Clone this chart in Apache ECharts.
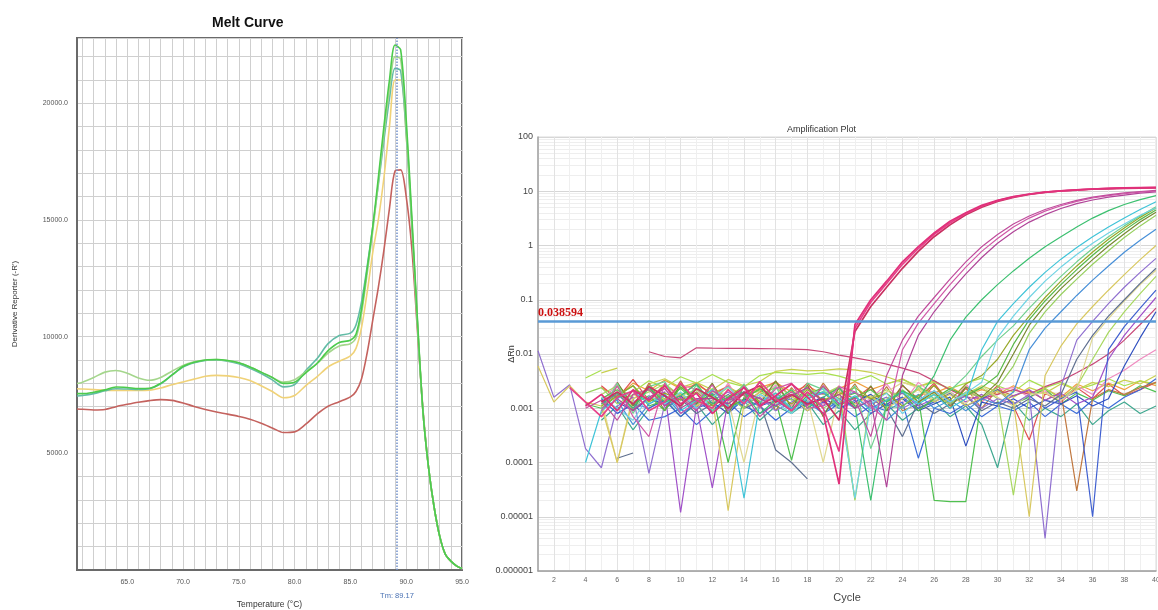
<!DOCTYPE html>
<html><head><meta charset="utf-8">
<script src="https://cdn.jsdelivr.net/npm/echarts@6/dist/echarts.min.js"></script>
<style>html,body{margin:0;padding:0;background:#fff}#c{width:1158px;height:610px}</style>
</head><body><div id="c"></div>
<script>
// ---------------- Melt curve data ----------------
const meltTemps = [60.5, 61, 62, 63, 64, 65, 66, 67, 68, 69, 70, 71, 72, 73, 74, 75, 76, 77, 78, 79, 80, 81, 82, 83, 84, 85,
  85.5, 86, 86.5, 87, 87.5, 88, 88.5, 89, 89.5, 90, 90.5, 91, 91.5, 92, 92.5, 93, 93.5, 94, 94.5, 95];
const meltRed = [6900, 6890, 6860, 6880, 7000, 7100, 7190, 7260, 7300, 7270, 7160, 7010, 6880, 6770, 6680, 6580, 6460, 6290, 6090, 5890, 5920, 6250, 6680, 7020, 7210, 7420,
  7650, 8200, 9300, 10700, 12100, 13700, 15500, 17100, 17150, 16000, 13800, 10300, 6900, 4400, 2700, 1450, 680, 380, 180, 60];
const meltYellow = [7770, 7760, 7730, 7700, 7700, 7700, 7700, 7710, 7800, 7940, 8060, 8180, 8300, 8340, 8320, 8250, 8120, 7900, 7650, 7380, 7480, 7900, 8280, 8700, 8950, 9180,
  9500, 10400, 11900, 13600, 15000, 16800, 19000, 21000, 21000, 18600, 14800, 10600, 6800, 4400, 2700, 1450, 680, 380, 180, 60];
const meltTeal = [7460, 7480, 7560, 7680, 7770, 7760, 7740, 7770, 7980, 8350, 8700, 8880, 8980, 9000, 8950, 8840, 8650, 8420, 8150, 7850, 7950, 8550, 9050, 9700, 10050, 10150,
  10500, 11500, 13000, 14700, 16500, 18400, 20200, 21500, 21400, 18700, 14800, 10600, 6800, 4400, 2700, 1450, 680, 380, 180, 60];
const meltPaleGreen = [7990, 8050, 8250, 8480, 8550, 8430, 8230, 8130, 8250, 8520, 8770, 8920, 9000, 9020, 8970, 8880, 8700, 8480, 8250, 8050, 8150, 8500, 8840, 9300, 9600, 9700,
  9950, 11000, 12700, 14500, 16600, 18700, 20600, 22000, 21900, 19000, 15000, 10700, 6800, 4400, 2700, 1450, 680, 380, 180, 60];
const meltGreen = [7560, 7560, 7620, 7720, 7840, 7820, 7780, 7790, 8000, 8350, 8720, 8900, 9000, 9020, 8980, 8880, 8700, 8480, 8250, 8000, 8050, 8450, 8850, 9400, 9750, 9850,
  10100, 11200, 12900, 14700, 16800, 19000, 21000, 22500, 22300, 19300, 15200, 10800, 6800, 4400, 2700, 1450, 680, 380, 180, 60];
const tmValue = 89.17;
const meltXLabels = [65, 70, 75, 80, 85, 90, 95];
const meltXGrid = [61, 62, 63, 64, 65, 66, 67, 68, 69, 70, 71, 72, 73, 74, 75, 76, 77, 78, 79, 80, 81, 82, 83, 84, 85, 86, 87, 88, 89, 90, 91, 92, 93, 94, 95];
const meltYLabels = [5000, 10000, 15000, 20000];

// ---------------- Amplification plot data ----------------
const cycles = [1, 2, 3, 4, 5, 6, 7, 8, 9, 10, 11, 12, 13, 14, 15, 16, 17, 18, 19, 20, 21, 22, 23, 24, 25, 26, 27, 28, 29, 30, 31, 32, 33, 34, 35, 36, 37, 38, 39, 40];
const threshold = 0.038594;
const ampYLabels = ['0.000001', '0.00001', '0.0001', '0.001', '0.01', '0.1', '1', '10', '100'];
const ampXLabels = [2, 4, 6, 8, 10, 12, 14, 16, 18, 20, 22, 24, 26, 28, 30, 32, 34, 36, 38, 40];

const wP1 = [null, null, null, 1.1e-3, 1.8e-3, 9e-4, 2.2e-3, 1.4e-3, 2.6e-3, 1.2e-3,
  1.9e-3, 8e-4, 1.5e-3, 2.4e-3, 1.1e-3, 1.7e-3, 2.8e-3, 1.6e-3, 8e-4, 4e-5,
  0.035, 0.1, 0.22, 0.5, 0.95, 1.7, 2.8, 4.0, 5.5, 6.8,
  8.0, 8.9, 9.6, 10.2, 10.6, 11.0, 11.3, 11.5, 11.7, 11.8];
const wP2 = [null, null, 2.4e-3, 1.3e-3, 7e-4, 1.6e-3, 2.1e-3, 9e-4, 1.3e-3, 2.9e-3,
  1.4e-3, 1.0e-3, 2.2e-3, 1.2e-3, 3.1e-3, 1.5e-3, 9e-4, 2.0e-3, 1.0e-3, 1.6e-4,
  0.03, 0.09, 0.2, 0.45, 0.88, 1.6, 2.6, 3.9, 5.3, 6.7,
  7.9, 8.8, 9.6, 10.2, 10.6, 11.0, 11.3, 11.5, 11.6, 11.7];
const wP3 = [null, null, null, null, 1.3e-3, 2.0e-3, 1.2e-3, 2.5e-3, 1.7e-3, 1.1e-3,
  2.3e-3, 1.6e-3, 1.0e-3, 1.9e-3, 2.6e-3, 1.3e-3, 1.8e-3, 1.2e-3, 1.5e-3, 6e-4,
  0.026, 0.075, 0.17, 0.38, 0.78, 1.45, 2.4, 3.7, 5.1, 6.5,
  7.7, 8.7, 9.5, 10.1, 10.5, 10.9, 11.1, 11.3, 11.4, 11.5];
const wQ1 = [null, null, null, 1.0e-3, 1.4e-3, 6e-4, 1.8e-3, 2.2e-3, 1.1e-3, 1.6e-3,
  9e-4, 2.1e-3, 1.4e-3, 1.8e-3, 7e-4, 1.3e-3, 2.0e-3, 1.1e-3, 2.6e-3, 1.2e-3,
  1.5e-3, 3e-4, 4e-3, 0.018, 0.05, 0.11, 0.24, 0.5, 0.95, 1.6,
  2.5, 3.5, 4.6, 5.7, 6.8, 7.8, 8.6, 9.3, 9.9, 10.4];
const wQ2 = [null, null, null, null, 9e-4, 2.6e-3, 7e-4, 3e-4, 2.9e-3, 8e-4,
  1.3e-3, 2.7e-3, 9e-4, 2.6e-3, 1.0e-3, 2.3e-3, 2.9e-3, 1.0e-3, 1.1e-3, 2.5e-3,
  2.0e-3, 1.1e-3, 6e-4, 0.012, 0.037, 0.085, 0.19, 0.4, 0.78, 1.35,
  2.2, 3.2, 4.3, 5.4, 6.5, 7.5, 8.3, 9.0, 9.6, 10.1];
const wQ3 = [null, null, null, null, null, 1.5e-3, 9e-4, 1.6e-3, 2.3e-3, 1.0e-3,
  1.5e-3, 1.5e-3, 1.2e-3, 2.0e-3, 1.5e-3, 1.1e-3, 1.7e-3, 2.4e-3, 1.3e-3, 1.8e-3,
  1.0e-3, 1.4e-3, 3.5e-5, 4e-3, 0.022, 0.06, 0.14, 0.3, 0.6, 1.1,
  1.8, 2.7, 3.7, 4.8, 5.9, 6.9, 7.8, 8.5, 9.2, 9.7];
const wG1 = [null, null, null, null, 1.2e-3, 1.9e-3, 1.0e-3, 2.4e-3, 1.3e-3, 1.7e-3,
  2.8e-3, 1.2e-3, 1.6e-3, 2.0e-3, 8e-4, 1.4e-3, 2.2e-3, 1.0e-3, 1.6e-3, 2.4e-3,
  1.1e-3, 2e-5, 1.3e-3, 2.1e-3, 1.5e-3, 4e-3, 0.018, 0.048, 0.1, 0.19,
  0.34, 0.58, 0.95, 1.45, 2.2, 3.2, 4.4, 5.7, 7.0, 8.3];
const wG2 = [null, null, null, null, 9e-4, 2.9e-3, 8e-4, 2.5e-3, 3.1e-3, 1.0e-3,
  2.7e-3, 9e-4, 1.2e-3, 2.8e-3, 1.0e-3, 2.5e-3, 8e-4, 2.9e-3, 2.2e-3, 1.0e-3,
  2.6e-3, 1.8e-4, 1.1e-3, 1.0e-3, 2.6e-3, 1.5e-3, 2.1e-3, 4e-3, 0.009, 0.018,
  0.033, 0.07, 0.14, 0.27, 0.5, 0.88, 1.45, 2.3, 3.5, 5.2];
const wC1 = [null, null, null, 1e-4, 9e-4, 1.5e-3, 2.1e-3, 1.2e-3, 1.8e-3, 9e-4,
  1.4e-3, 2.2e-3, 1.1e-3, 2.2e-5, 1.3e-3, 1.9e-3, 1.0e-3, 1.5e-3, 2.0e-3, 1.2e-3,
  1.7e-3, 9e-4, 1.4e-3, 2.0e-3, 1.2e-3, 1.8e-3, 1.0e-3, 1.5e-3, 0.012, 0.04,
  0.085, 0.17, 0.32, 0.56, 0.92, 1.45, 2.2, 3.2, 4.6, 6.4];
const wC2 = [null, null, null, null, 1.6e-3, 1.0e-3, 6e-4, 1.7e-3, 1.2e-3, 2.0e-3,
  1.0e-3, 1.6e-3, 2.5e-3, 1.2e-3, 1.8e-3, 1.3e-3, 8e-4, 1.6e-3, 2.3e-3, 1.4e-3,
  2.2e-5, 1.2e-3, 1.9e-3, 8e-4, 1.4e-3, 2.1e-3, 1.3e-3, 1.9e-3, 3e-3, 0.02,
  0.05, 0.11, 0.22, 0.4, 0.68, 1.1, 1.7, 2.5, 3.6, 4.9];
const wO1 = [null, null, null, null, 1.1e-3, 1.7e-3, 2.6e-3, 1.3e-3, 1.9e-3, 1.4e-3,
  2.0e-3, 1.1e-3, 1.6e-3, 2.6e-3, 1.3e-3, 1.9e-3, 1.2e-3, 2.2e-3, 1.4e-3, 1.8e-3,
  2.4e-3, 1.5e-3, 1.9e-3, 1.1e-3, 1.7e-3, 2.6e-3, 1.4e-3, 2.8e-3, 4e-3, 8e-3,
  0.022, 0.05, 0.11, 0.22, 0.42, 0.76, 1.3, 2.1, 3.3, 4.9];
const wO2 = [null, null, null, null, 1.5e-3, 2.2e-3, 1.2e-3, 1.7e-3, 9e-4, 2.5e-3,
  1.3e-3, 1.8e-3, 1.0e-3, 1.5e-3, 2.3e-3, 1.6e-3, 9e-4, 1.7e-3, 2.0e-3, 1.1e-3,
  1.6e-3, 2.2e-3, 1.3e-3, 2.0e-3, 9e-4, 1.5e-3, 2.3e-3, 1.7e-3, 2.4e-3, 4e-3,
  0.015, 0.043, 0.095, 0.19, 0.36, 0.66, 1.15, 1.9, 3.0, 4.5];
const wO3 = [null, null, null, null, null, 3.0e-3, 1.1e-3, 2.6e-3, 9e-4, 2.8e-3,
  1.2e-3, 2.9e-3, 8e-4, 2.5e-3, 1.2e-3, 3.2e-3, 1.0e-3, 2.7e-3, 7e-4, 2.4e-3,
  1.0e-3, 2.6e-3, 9e-4, 2.7e-3, 1.3e-3, 2.0e-3, 1.0e-3, 2.5e-3, 1.6e-3, 3e-3,
  0.01, 0.034, 0.078, 0.16, 0.3, 0.55, 0.98, 1.65, 2.7, 4.1];
const wO4 = [null, null, null, 1.9e-3, 2.4e-3, 1.2e-3, 1.8e-3, 2.2e-3, 1.5e-3, 1.9e-3,
  1.2e-3, 2.3e-3, 1.6e-3, 1.0e-3, 1.8e-3, 2.4e-3, 1.4e-3, 1.9e-3, 1.0e-3, 1.5e-3,
  2.1e-5, null, 1.5e-3, 2.2e-3, 1.3e-3, 1.8e-3, 1.2e-3, 2.0e-3, 1.6e-3, 2.4e-3,
  0.006, 0.024, 0.06, 0.125, 0.24, 0.45, 0.8, 1.4, 2.3, 3.6];
const wB1 = [null, null, null, null, 1.0e-3, 1.4e-3, 5e-4, 1.2e-3, 1.7e-3, 8e-4,
  1.2e-3, 1.9e-3, 9e-4, 1.4e-3, 1.1e-3, 1.7e-3, 1.0e-3, 1.3e-3, 8e-4, 1.5e-3,
  1.0e-3, 1.4e-3, 6e-4, 1.1e-3, 1.8e-3, 1.0e-3, 1.4e-3, 9e-4, 1.5e-3, 1.2e-3,
  2.0e-3, 0.012, 0.03, 0.06, 0.12, 0.23, 0.42, 0.75, 1.25, 2.0];
const wY1 = [6e-3, 1.3e-3, 2.6e-3, 1.3e-3, 1.1e-3, 1e-4, 1.5e-3, 2.2e-3, 1.4e-3, 1.8e-3,
  1.1e-3, 1.6e-3, 1.3e-5, 1.2e-3, 2.0e-3, 1.3e-3, 1.7e-3, 9e-4, 1.4e-3, 2.0e-3,
  1.2e-3, 1.7e-3, 1.0e-3, 1.5e-3, 2.2e-3, 1.3e-3, 1.8e-3, 1.1e-3, 1.6e-3, 2.1e-3,
  1.3e-3, 1e-5, 4e-3, 0.014, 0.036, 0.075, 0.15, 0.29, 0.55, 1.0];
const wV1 = [0.0115, 1.6e-3, 2.7e-3, 1.8e-4, 8e-5, 1.1e-3, 1.6e-3, 6.3e-5, 1.2e-3, 1.8e-3,
  1.0e-3, 1.4e-3, 2.0e-3, 1.2e-3, 1.6e-3, 9e-4, 1.3e-3, 1.9e-3, 1.1e-3, 1.5e-3,
  2.0e-3, 1.2e-3, 1.6e-3, 1.0e-3, 1.4e-3, 2.1e-3, 1.3e-3, 1.7e-3, 1.0e-3, 1.5e-3,
  1.2e-3, 1.8e-3, 4e-6, 2.5e-3, 0.018, 0.04, 0.085, 0.17, 0.32, 0.58];
const wD1 = [null, null, null, null, null, 1.2e-4, 1.5e-4, null, 1.0e-3, 1.5e-3,
  8e-4, 1.2e-3, 1.8e-3, 1.0e-3, 1.3e-3, 1.7e-4, 1.0e-4, 5e-5, null, null,
  null, 1.5e-3, 1.0e-3, 3e-4, 1.3e-3, 8e-4, 1.2e-3, 1.7e-3, 9e-4, 1.3e-3,
  1.0e-3, 1.5e-3, 1.1e-3, 1.8e-3, 8e-3, 0.022, 0.05, 0.1, 0.2, 0.38];
const wY2 = [null, null, null, null, 1.4e-3, 1.0e-4, 1.8e-3, 1.3e-3, 2.4e-3, 1.5e-3,
  1.1e-3, 2.0e-3, 1.4e-3, 1.0e-4, 1.7e-3, 1.2e-3, 2.2e-3, 1.5e-3, 1.0e-4, 1.8e-3,
  2.5e-3, 1.5e-3, 2.0e-3, 3e-3, 2.4e-3, 1.4e-3, 2.0e-3, 1.2e-3, 2.6e-3, 1.6e-3,
  1.1e-3, 1.8e-3, 1.9e-3, 1.4e-3, 2.2e-3, 0.02, 0.045, 0.095, 0.19, 0.35];
const wB2 = [null, null, null, null, 1.5e-3, 8e-4, 1.2e-3, 1.0e-3, 1.4e-3, 7e-4,
  1.3e-3, 9e-4, 1.6e-3, 1.1e-3, 8e-4, 1.2e-3, 1.5e-3, 9e-4, 1.3e-3, 1.0e-3,
  1.4e-3, 8e-4, 1.2e-3, 1.6e-3, 1.0e-3, 1.3e-3, 1.9e-3, 1.1e-3, 1.5e-3, 2.2e-3,
  1.2e-3, 1.7e-3, 1.0e-3, 1.5e-3, 2.0e-3, 1e-5, 0.012, 0.032, 0.07, 0.15];
const wM2 = [null, null, null, null, 1.2e-3, 1.8e-3, 1.0e-3, 1.5e-3, 2.0e-3, 1.2e-5,
  1.1e-3, 3.4e-5, 1.4e-3, 2.0e-3, 1.2e-3, 1.6e-3, 1.0e-3, 1.5e-3, 1.9e-3, 1.2e-3,
  1.6e-3, 1.0e-3, 1.4e-3, 1.9e-3, 1.1e-3, 1.5e-3, 2.0e-3, 1.3e-3, 1.8e-3, 1.2e-3,
  1.7e-3, 2.2e-3, 1.4e-3, 1.9e-3, 1.2e-3, 1.6e-3, 8e-3, 0.022, 0.05, 0.11];
const wL1 = [null, null, null, null, 1.8e-3, 2.6e-3, 1.5e-3, 2.0e-3, 2.8e-3, 1.7e-3,
  2.2e-3, 1.5e-3, 2.4e-3, 1.7e-3, 2.1e-3, 2.9e-3, 1.6e-3, 2.3e-3, 1.8e-3, 2.5e-3,
  2.0e-5, 1.6e-3, 2.2e-3, 1.5e-3, 2.3e-3, 1.8e-3, 1.2e-3, 1.9e-3, 2.4e-3, 1.5e-3,
  2.5e-5, 1.8e-3, 2.3e-3, 1.5e-3, 2.5e-3, 8e-3, 0.025, 0.06, 0.13, 0.27];
const wB3 = [null, null, null, null, null, 1.3e-3, 9e-4, 1.5e-3, 1.2e-3, 1.7e-3,
  1.0e-3, 1.3e-3, 8e-4, 1.5e-3, 1.1e-3, 1.4e-3, 9e-4, 1.2e-3, 1.6e-3, 1.0e-3,
  1.3e-3, 1.8e-3, 1.1e-3, 1.5e-3, 9e-4, 1.2e-3, 1.6e-3, 2e-4, 1.3e-3, 1.1e-3,
  1.5e-3, 1.0e-3, 1.4e-3, 1.2e-3, 1.7e-3, 1.1e-3, 1.5e-3, 6e-3, 0.02, 0.06];
const wH1 = [null, null, null, null, null, null, null, 0.011, 0.009, 0.0085,
  0.013, 0.0128, 0.0127, 0.0127, 0.0126, 0.0125, 0.0123, 0.012, 0.011, 0.0095,
  0.0085, 0.0075, 0.0065, 0.0055, 0.0045, 0.0032, 0.0022, 0.0016, 0.0015, 0.0018,
  0.0022, 0.0018, 0.0025, 0.0032, 0.0045, 0.0065, 0.01, 0.018, 0.035, 0.07];
const wN1 = [null, null, null, null, 2.6e-3, 1.5e-3, 3.4e-3, 1.4e-3, 2.8e-3, 1.6e-3,
  3.0e-3, 1.7e-3, 2.6e-3, 1.2e-3, 2.0e-3, 3.1e-3, 1.6e-3, 2.9e-3, 1.3e-3, 2.0e-3,
  1.5e-3, 2.5e-3, 1.1e-3, 2.6e-3, 1.5e-3, 2.9e-3, 1.2e-3, 2.3e-3, 1.4e-3, 2.6e-3,
  1.1e-3, 2.6e-4, 1.9e-3, 1.3e-3, 2.4e-3, 1.5e-3, 2.8e-3, 1.7e-3, 2.2e-3, 3.0e-3];
const wN2 = [null, null, null, null, 2.4e-3, 1.6e-3, 2.9e-3, 2.1e-3, 3.3e-3, 2.3e-3,
  2.7e-3, 1.9e-3, 2.5e-3, 1.7e-3, 2.4e-3, 3.0e-3, 2.0e-3, 2.6e-3, 1.8e-3, 2.3e-3,
  3.1e-3, 2.2e-3, 2.8e-3, 3.5e-3, 2.4e-3, 1.9e-3, 2.5e-3, 1.7e-3, 2.2e-3, 1.8e-3,
  2.6e-3, 1.9e-3, 2.3e-3, 1.6e-3, 2.8e-3, 2.1e-3, 2.9e-3, 2.2e-3, 3.2e-3, 2.6e-3];
const wN3 = [null, null, null, 3.6e-3, 5e-3, null, 2.0e-3, 3.2e-3, 2.4e-3, 3.8e-3,
  2.9e-3, 4.2e-3, 3.0e-3, 2.5e-3, 4.0e-3, 4.6e-3, 4.4e-3, 4.2e-3, 4.5e-3, 3.9e-3,
  3.2e-3, 4.0e-3, 2.8e-3, 3.4e-3, 2.5e-3, 3.0e-3, 2.3e-3, 2.9e-3, 3.6e-3, 2.6e-3,
  2.0e-3, 3.3e-3, 2.4e-3, 3.0e-3, 2.2e-3, 2.7e-3, 3.5e-3, 2.6e-3, 3.2e-3, 2.8e-3];
const wN4 = [null, null, null, null, 6e-4, 1.1e-3, 4e-4, 1.0e-3, 1.5e-3, 7e-4,
  1.2e-3, 5e-4, 1.0e-3, 1.4e-3, 6e-4, 1.1e-3, 8e-4, 1.3e-3, 5e-4, 9e-4,
  4e-4, 8e-4, 1.2e-3, 6e-4, 1.0e-3, 1.4e-3, 7e-4, 1.1e-3, 5e-4, 8e-5,
  1.3e-3, 6e-4, 1.0e-3, 7e-4, 1.2e-3, 5e-4, 9e-4, 1.3e-3, 8e-4, 1.1e-3];
const wN5 = [null, null, null, null, 1.2e-3, 3.0e-3, 1.0e-3, 2.6e-3, 1.1e-3, 2.7e-3,
  2.2e-3, 1.1e-3, 2.9e-3, 1.0e-3, 1.4e-3, 2.7e-3, 1.1e-3, 2.5e-3, 1.2e-3, 2.6e-3,
  1.1e-3, 1.5e-3, 2.8e-3, 1.2e-3, 3.0e-3, 1.8e-3, 1.0e-3, 2.8e-3, 1.3e-3, 2.2e-3,
  2.4e-3, 1.6e-3, 2.1e-3, 1.3e-3, 2.6e-3, 1.8e-3, 3.5e-3, 5e-3, 8e-3, 0.012];
const wN6 = [null, null, null, null, null, 8e-4, 1.2e-3, 6e-4, 7e-4, 1.0e-3,
  5e-4, 9e-4, 1.3e-3, 7e-4, 1.1e-3, 6e-4, 1.0e-3, 1.4e-3, 8e-4, 1.2e-3,
  7e-4, 1.1e-3, 9e-4, 1.3e-3, 1.2e-4, 1.0e-3, 8e-4, 1.2e-3, 7e-4, 1.1e-3,
  9e-4, 1.3e-3, 7e-4, 1.2e-3, 8e-4, 1.4e-3, 1.0e-3, 1.6e-3, 2.2e-3, 3.5e-3];
const wN7 = [null, null, null, 1.2e-3, 1.0e-3, 1.7e-3, 2.6e-3, 1.1e-3, 1.4e-3, 2.3e-3,
  1.3e-3, 1.8e-3, 1.0e-4, 1.6e-3, 2.2e-3, 1.4e-3, 1.1e-4, 1.8e-3, 2.4e-3, 1.5e-3,
  1.9e-3, 1.5e-3, 1.4e-3, 2.0e-3, 1.6e-3, 2.0e-5, 1.9e-5, 1.9e-5, 1.5e-3, 2.2e-3,
  1.2e-3, 1.6e-3, 2.3e-3, 1.2e-3, 1.9e-3, 1.4e-3, 2.1e-3, 1.7e-3, 2.6e-3, 2.0e-3];
const wN8 = [null, null, null, null, 8e-4, 2.6e-3, 9e-4, 2.9e-3, 1.1e-3, 3.2e-3,
  1.0e-3, 2.8e-3, 1.1e-3, 1.4e-3, 3.0e-3, 9e-4, 2.4e-3, 1.0e-3, 2.9e-3, 1.2e-3,
  2.8e-3, 1.0e-3, 2.5e-3, 9e-4, 1.2e-3, 2.7e-3, 1.1e-3, 2.4e-3, 1.0e-3, 2.2e-3,
  1.7e-3, 2.1e-3, 1.4e-3, 2.0e-3, 3e-5, 1.5e-3, 2.2e-3, 1.8e-3, 2.4e-3, 3.0e-3];
const wN10 = [null, null, null, null, 4.5e-3, 5.5e-3, null, 2.8e-3, 3.5e-3, 2.4e-3,
  3.0e-3, 2.2e-3, 3.4e-3, 2.6e-3, 3.1e-3, 4.8e-3, 5.2e-3, 4.9e-3, 5.0e-3, 5.3e-3,
  5.1e-3, 4.6e-3, 3.8e-3, 3.0e-3, 2.5e-3, 3.2e-3, 2.2e-3, 1.8e-3, 2.6e-3, 2.0e-3,
  1.6e-3, 2.4e-3, 1.9e-3, 2.8e-3, 2.2e-3, 3.0e-3, 2.5e-3, 3.3e-3, 2.8e-3, 4.0e-3];

// series drawing order (first drawn = bottom) and colours
const ampWells = [
  ['N2', wN2, '#f0a040'], ['N1', wN1, '#e05050'], ['N3', wN3, '#a8e050'], ['N10', wN10, '#c8d050'],
  ['N4', wN4, '#40a890'], ['N5', wN5, '#f08cc0'], ['N6', wN6, '#3c6cd8'], ['N7', wN7, '#50c050'],
  ['N8', wN8, '#c07840'], ['H1', wH1, '#c84878'],
  ['B3', wB3, '#3050c0'], ['L1', wL1, '#a8d860'], ['M2', wM2, '#a050c8'], ['B2', wB2, '#4060d0'],
  ['Y2', wY2, '#e0d890'], ['D1', wD1, '#607090'], ['V1', wV1, '#9070d0'], ['Y1', wY1, '#d8c860'],
  ['B1', wB1, '#4890d8'], ['O4', wO4, '#98d060'], ['O3', wO3, '#788830'], ['O2', wO2, '#58b848'],
  ['O1', wO1, '#98a828'], ['G2', wG2, '#70d090'], ['C2', wC2, '#70d4e4'], ['C1', wC1, '#40c4d8'],
  ['G1', wG1, '#3cc070'], ['Q3', wQ3, '#b04498'], ['Q2', wQ2, '#d058a8'], ['Q1', wQ1, '#c04c9c'],
  ['P3', wP3, '#c83060'], ['P2', wP2, '#e8408a'], ['P1', wP1, '#e0307a']
];

const FONT = 'Liberation Sans';
const chart = echarts.init(document.getElementById('c'), null, {renderer: 'canvas'});

// log grid lines (1..9 per decade)
const logGrid = [];
for (let e = -6; e <= 1; e++) for (let m = 1; m <= 9; m++) logGrid.push(m * Math.pow(10, e));
logGrid.push(100);
const decadeVals = ampYLabels.map(s => parseFloat(s));
const cycleGrid = cycles.slice(1);

const meltSeries = [
  ['Red', meltRed, '#c4625e'], ['Yellow', meltYellow, '#f0d278'], ['Teal', meltTeal, '#62bca6'],
  ['PaleGreen', meltPaleGreen, '#a4d68c'], ['Green', meltGreen, '#4ccb4c']
].map(([n, arr, col], k) => ({
  name: n, type: 'line', xAxisIndex: 0, yAxisIndex: 0, smooth: 0.3, showSymbol: false,
  lineStyle: {color: col, width: 1.6}, itemStyle: {color: col},
  data: meltTemps.map((t, i) => [t, arr[i]]),
  markLine: k === 4 ? {
    silent: true, symbol: ['none', 'none'],
    lineStyle: {color: '#6f8fca', width: 1.5, type: 'dotted'},
    label: {show: true, position: 'start', distance: 22, formatter: 'Tm: ' + tmValue,
      color: '#4a72b4', fontSize: 7.5, fontFamily: FONT},
    data: [{xAxis: tmValue}]
  } : undefined
}));

const ampSeries = ampWells.map(([n, arr, col], k) => ({
  name: n, type: 'line', xAxisIndex: 1, yAxisIndex: 1, showSymbol: false, connectNulls: false,
  lineStyle: {color: col, width: n[0] === 'P' ? 1.7 : 1.2}, itemStyle: {color: col},
  data: cycles.map((c, i) => [c, arr[i] == null ? '-' : arr[i]]),
  markLine: k === 0 ? {
    silent: true, symbol: ['none', 'none'],
    lineStyle: {color: '#5a9ad6', width: 2.5, type: 'solid'},
    label: {show: true, position: 'insideStartTop', distance: [0, 2], formatter: String(threshold),
      color: '#cc1010', fontSize: 12, fontWeight: 'bold', fontFamily: 'Liberation Serif'},
    data: [{yAxis: threshold}]
  } : undefined
}));

chart.setOption({
  animation: false,
  backgroundColor: '#ffffff',
  title: [
    {text: 'Melt Curve', left: 207, top: 11, textStyle: {fontSize: 14, fontWeight: 'bold', fontFamily: FONT, color: '#111'}},
    {text: 'Amplification Plot', left: 782, top: 120, textStyle: {fontSize: 9, fontWeight: 'normal', fontFamily: FONT, color: '#333'}}
  ],
  grid: [
    {left: 77, right: 696, top: 38, bottom: 40, show: true, borderColor: '#6a6a6a', borderWidth: 2, outerBoundsMode: 'none', containLabel: false},
    {left: 538, right: 2, top: 137, bottom: 39, show: true, borderColor: '#dadada', borderWidth: 1, outerBoundsMode: 'none', containLabel: false}
  ],
  xAxis: [
    {type: 'value', gridIndex: 0, min: 60.5, max: 95,
      name: 'Temperature (°C)', nameLocation: 'middle', nameGap: 30, nameMoveOverlap: false,
      nameTextStyle: {fontSize: 8.5, fontFamily: FONT, color: '#333'},
      axisLine: {show: true, lineStyle: {color: '#6a6a6a', width: 2}},
      axisTick: {show: false, customValues: meltXGrid},
      axisLabel: {customValues: meltXLabels, formatter: v => v.toFixed(1), fontSize: 7, color: '#555', fontFamily: FONT, margin: 9},
      splitLine: {show: true, lineStyle: {color: '#cfcfcf', width: 1}}},
    {type: 'value', gridIndex: 1, min: 1, max: 40,
      name: 'Cycle', nameLocation: 'middle', nameGap: 21, nameMoveOverlap: false,
      nameTextStyle: {fontSize: 11, fontFamily: FONT, color: '#444'},
      axisLine: {show: true, lineStyle: {color: '#a0a0a0', width: 1.5}},
      axisTick: {show: false, customValues: cycleGrid},
      axisLabel: {customValues: ampXLabels, fontSize: 7, color: '#666', fontFamily: FONT, margin: 6},
      splitLine: {show: true, lineStyle: {color: ['#e2e2e2', '#efefef'], width: 1}}}
  ],
  yAxis: [
    {type: 'value', gridIndex: 0, min: 0, max: 22800, interval: 1000,
      name: "Derivative Reporter (-R')", nameLocation: 'middle', nameGap: 58, nameMoveOverlap: false,
      nameTextStyle: {fontSize: 8, fontFamily: FONT, color: '#333'},
      axisLine: {show: true, lineStyle: {color: '#6a6a6a', width: 2}},
      axisTick: {show: false},
      axisLabel: {customValues: meltYLabels, formatter: v => v.toFixed(1), fontSize: 7, color: '#555', fontFamily: FONT, margin: 9},
      splitLine: {show: true, lineStyle: {color: '#cfcfcf', width: 1}}},
    {type: 'log', logBase: 10, gridIndex: 1, min: 1e-6, max: 100,
      name: 'ΔRn', nameLocation: 'middle', nameGap: 22, nameMoveOverlap: false,
      nameTextStyle: {fontSize: 9, fontFamily: FONT, color: '#333'},
      axisLine: {show: true, lineStyle: {color: '#a0a0a0', width: 1.5}},
      axisTick: {show: false, customValues: logGrid},
      axisLabel: {customValues: decadeVals,
        formatter: v => { const e = Math.round(Math.log10(v)); return ampYLabels[e + 6]; },
        fontSize: 9, color: '#444', fontFamily: FONT, margin: 5},
      splitLine: {show: true, lineStyle: {color: ['#d6d6d6', '#eeeeee', '#eeeeee', '#eeeeee', '#eeeeee', '#eeeeee', '#eeeeee', '#eeeeee', '#eeeeee'], width: 1}}}
  ],
  series: meltSeries.concat(ampSeries)
});
</script></body></html>
